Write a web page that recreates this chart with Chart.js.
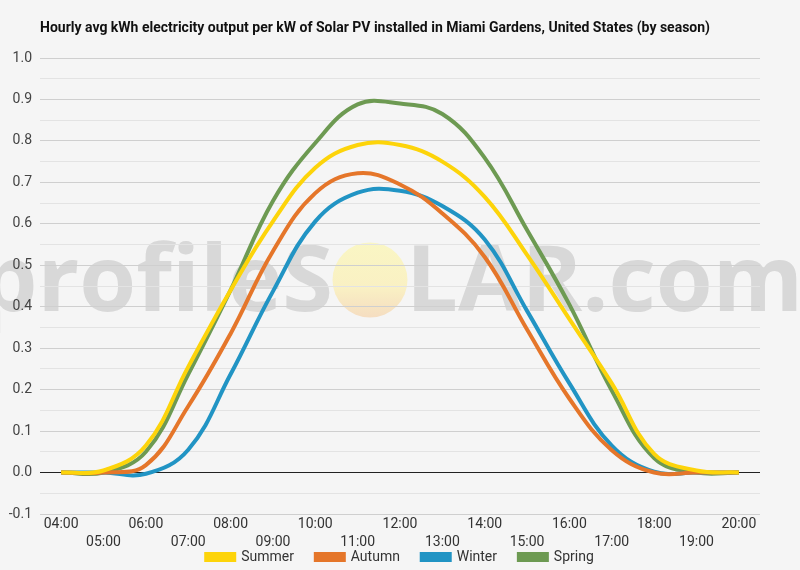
<!DOCTYPE html>
<html>
<head>
<meta charset="utf-8">
<script src="https://cdn.jsdelivr.net/npm/chart.js@4.4.1/dist/chart.umd.min.js"></script>
<style>
  html, body { margin: 0; padding: 0; background: #f5f5f5; }
  #wrap { width: 800px; height: 570px; position: relative; }
</style>
</head>
<body>
<div id="wrap"><canvas id="grafico"></canvas></div>
<script>
// dados
var horas = ["04:00", "05:00", "06:00", "07:00", "08:00", "09:00", "10:00", "11:00", "12:00",
             "13:00", "14:00", "15:00", "16:00", "17:00", "18:00", "19:00", "20:00"];
var summer = [0, 0.005, 0.065, 0.255, 0.44, 0.606, 0.735, 0.79, 0.79, 0.75, 0.665, 0.525, 0.37, 0.215, 0.045, 0.005, 0];
var autumn = [0, 0, 0.018, 0.16, 0.335, 0.534, 0.674, 0.722, 0.695, 0.625, 0.52, 0.345, 0.178, 0.054, 0, 0, 0];
var winter = [0, 0, -0.003, 0.055, 0.237, 0.437, 0.606, 0.675, 0.68, 0.643, 0.562, 0.39, 0.215, 0.065, 0.002, 0, 0];
var spring = [0, 0, 0.05, 0.237, 0.44, 0.655, 0.795, 0.888, 0.89, 0.865, 0.759, 0.585, 0.405, 0.198, 0.035, 0, 0];
var yTicks = [-0.1, 0.0, 0.1, 0.2, 0.3, 0.4, 0.5, 0.6, 0.7, 0.8, 0.9, 1.0];

var titulo = "Hourly avg kWh electricity output per kW of Solar PV installed in Miami Gardens, United States (by season)";

// marca d'agua + titulo
var fundo = {
    id: 'fundo',
    afterLayout: function(chart) {
        // centraliza a legenda na largura toda
        chart.legend.left += 20;
        chart.legend.right += 20;
    },
    beforeDraw: function(chart) {
        var ctx = chart.ctx;
        ctx.save();
        ctx.fillStyle = '#f5f5f5';
        ctx.fillRect(0, 0, chart.width, chart.height);

        // sol
        var g = ctx.createLinearGradient(0, 242, 0, 318);
        g.addColorStop(0, 'rgba(250,246,190,0.9)');
        g.addColorStop(0.6, 'rgba(250,240,190,0.9)');
        g.addColorStop(1, 'rgba(245,215,180,0.8)');
        ctx.fillStyle = g;
        ctx.beginPath();
        ctx.arc(370, 280, 37.5, 0, Math.PI * 2);
        ctx.fill();

        ctx.fillStyle = 'rgba(205,205,205,0.75)';
        ctx.font = 'bold 92px "Open Sans"';
        ctx.textBaseline = 'alphabetic';
        ctx.textAlign = 'right';
        ctx.fillText('profileS', 333, 311);
        ctx.textAlign = 'left';
        ctx.fillText('LAR.com', 406, 311);

        ctx.fillStyle = '#111';
        ctx.font = 'bold 14px Roboto';
        ctx.textAlign = 'left';
        ctx.textBaseline = 'middle';
        ctx.fillText(titulo, 40, 28);
        ctx.restore();
    }
};

var ctx1 = document.getElementById('grafico').getContext('2d');
var grafico = new Chart(ctx1, {
    type: 'line',
    data: {
        labels: horas,
        datasets: [
            { label: 'Summer', data: summer, borderColor: '#fdd40a', backgroundColor: '#fdd40a' },
            { label: 'Autumn', data: autumn, borderColor: '#e5762a', backgroundColor: '#e5762a' },
            { label: 'Winter', data: winter, borderColor: '#2194c4', backgroundColor: '#2194c4' },
            { label: 'Spring', data: spring, borderColor: '#6d9a52', backgroundColor: '#6d9a52' }
        ]
    },
    options: {
        responsive: true,
        maintainAspectRatio: false,
        animation: false,
        devicePixelRatio: 1,
        layout: { padding: { top: 58, right: 40, left: 0, bottom: -4 } },
        elements: {
            line: { borderWidth: 4, tension: 0.4 },
            point: { radius: 0 }
        },
        plugins: {
            title: { display: false },
            tooltip: { enabled: false },
            legend: {
                position: 'bottom',
                labels: {
                    boxWidth: 28,
                    boxHeight: 6,
                    padding: 1,
                    color: '#333',
                    font: { family: 'Roboto', size: 14 },
                    generateLabels: function(chart) {
                        var items = Chart.defaults.plugins.legend.labels.generateLabels(chart);
                        items.forEach(function(it, i) {
                            if (i < items.length - 1) it.text = it.text + '      ';
                        });
                        return items;
                    }
                }
            }
        },
        scales: {
            x: {
                offset: true,
                afterFit: function(s) { s.height = 35; },
                grid: { display: false },
                border: { display: false },
                ticks: {
                    autoSkip: false,
                    maxRotation: 0,
                    padding: -6,
                    color: '#333',
                    font: { family: 'Roboto', size: 14, lineHeight: 1.28 },
                    callback: function(v, i) {
                        return i % 2 === 0 ? [horas[i], ''] : ['', horas[i]];
                    }
                }
            },
            y: {
                min: yTicks[0],
                max: yTicks[yTicks.length - 1],
                afterFit: function(s) { s.width = 40; },
                border: { display: false },
                grid: {
                    drawTicks: false,
                    lineWidth: 1,
                    color: function(c) {
                        var v = Math.round(c.tick.value * 100);
                        if (v === 0) return '#222';
                        return v % 10 === 0 ? '#cfcfcf' : '#e3e3e3';
                    }
                },
                ticks: {
                    stepSize: 0.05,
                    padding: 8,
                    color: '#444',
                    font: { family: 'Roboto', size: 14 },
                    callback: function(v) {
                        var n = Math.round(v * 100);
                        return n % 10 === 0 ? (n / 100).toFixed(1) : '';
                    }
                }
            }
        }
    },
    plugins: [fundo]
});
</script>
</body>
</html>
